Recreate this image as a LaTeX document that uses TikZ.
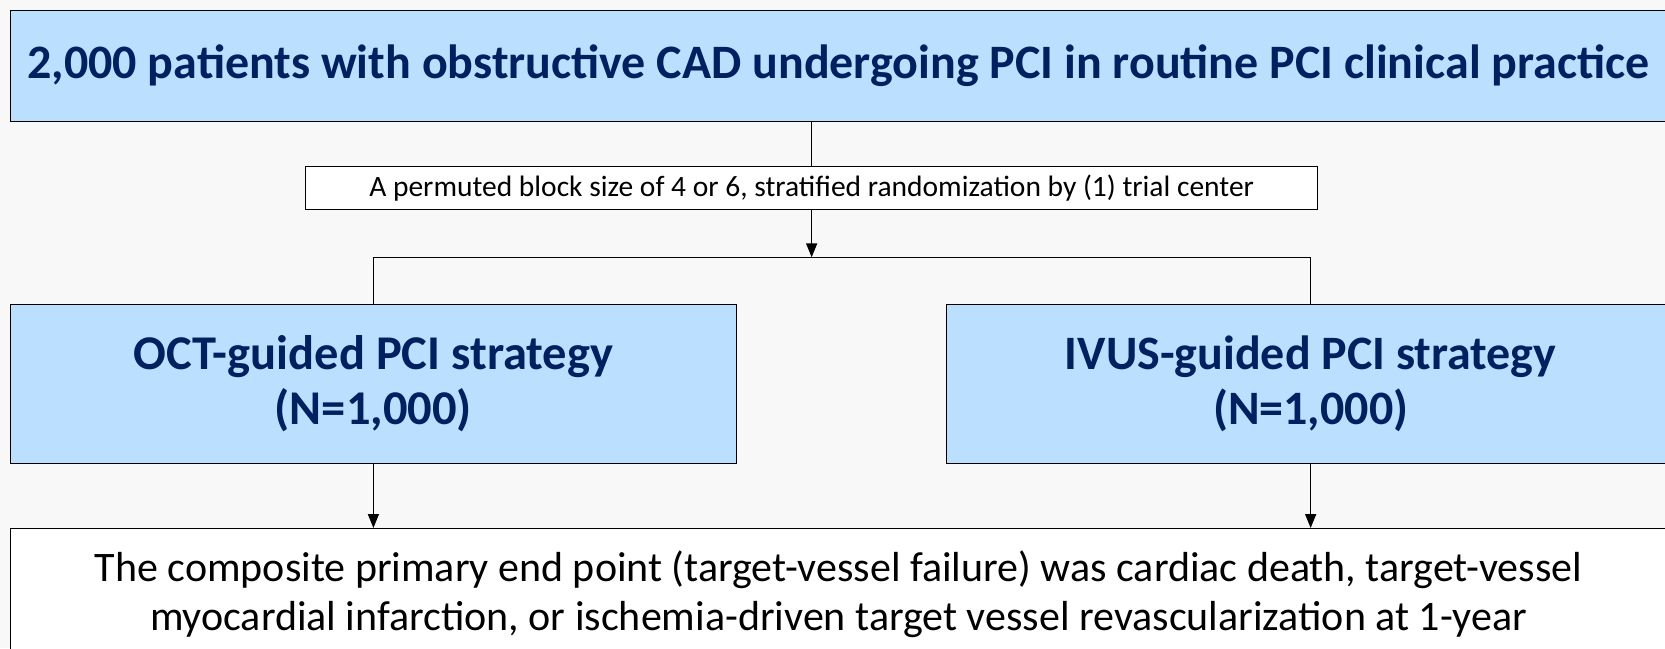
\documentclass[tikz,border=0pt]{standalone}
\usepackage{fontspec}
\setmainfont{Carlito}
\usepackage{tikz}
\usetikzlibrary{arrows.meta,calc}
\definecolor{pagegray}{RGB}{248,248,248}
\definecolor{armblue}{RGB}{187,224,255}
\definecolor{textnavy}{RGB}{0,32,96}
\tikzset{>={Triangle[length=14pt,width=11pt]}}
\tikzset{
    bluebox/.style={draw, line width=1.3pt, fill=armblue, text=textnavy, align=center, anchor=north west, inner sep=0pt},
    whitebox/.style={draw, line width=1.3pt, fill=white, align=center, anchor=north west, inner sep=0pt},
    link/.style={line width=1.5pt},
}

\begin{document}
\begin{tikzpicture}[x=1pt, y=-1pt]
    \fill[pagegray] (0,0) rectangle (1665,648);
    \useasboundingbox (0,0) rectangle (1665,648);

    \node[bluebox, minimum width=1656.5pt, minimum height=111.5pt, font=\fontsize{48}{56}\selectfont\bfseries] (all) at (9.5,9.5)
        {2,000 patients with obstructive CAD undergoing PCI in routine PCI clinical practice};
    \node[whitebox, minimum width=1012pt, minimum height=43pt, font=\fontsize{29.5}{34}\selectfont] (rand) at (305,166)
        {A permuted block size of 4 or 6, stratified randomization by (1) trial center};
    \coordinate (split) at ($(rand.south)+(0,47)$);

    \node[bluebox, minimum width=726.5pt, minimum height=158.5pt, font=\fontsize{48.5}{55}\selectfont\bfseries] (oct) at (9.5,304)
        {OCT-guided PCI strategy\\(N=1,000)};
    \node[bluebox, minimum width=728pt, minimum height=158.5pt, font=\fontsize{48}{55}\selectfont\bfseries] (ivus) at (946,304)
        {IVUS-guided PCI strategy\\(N=1,000)};

    \node[whitebox, minimum width=1656.5pt, minimum height=131pt, font=\fontsize{42}{49}\selectfont] (outcome) at (9.5,528)
        {The composite primary end point (target-vessel failure) was cardiac death, target-vessel\\
         myocardial infarction, or ischemia-driven target vessel revascularization at 1-year};

    \draw[link] (rand.north) -- (rand.north |- all.south);
    \draw[link,->] (rand.south) -- (split);
    \draw[link] (oct.north) |- (split) -| (ivus.north);
    \draw[link,->] (oct.south) -- (oct.south |- outcome.north);
    \draw[link,->] (ivus.south) -- (ivus.south |- outcome.north);
\end{tikzpicture}
\end{document}
